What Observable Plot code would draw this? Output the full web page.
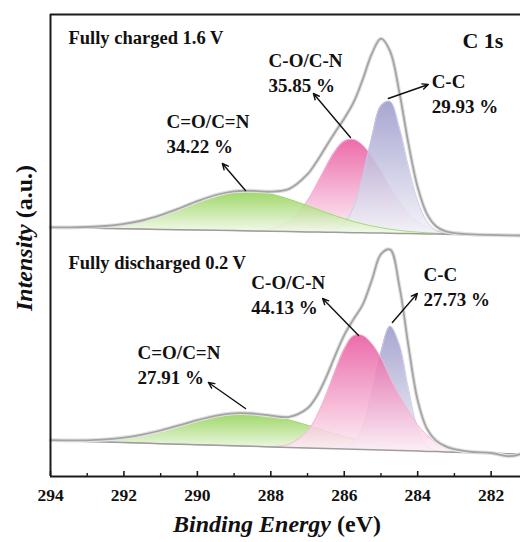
<!DOCTYPE html>
<html><head><meta charset="utf-8">
<script src="https://cdn.jsdelivr.net/npm/d3@7"></script>
<script src="https://cdn.jsdelivr.net/npm/@observablehq/plot@0.6"></script>
<style>html,body{margin:0;padding:0;background:#fff;overflow:hidden}</style>
</head><body><div id="chart"></div>
<script>
// Binding energies (eV) at which the curves were read
const energies = [294,293.5,293,292.5,292,291.5,291,290.5,290,289.5,289,288.5,288,287.5,287,286.75,286.5,286.25,286,285.75,285.5,285.25,285,284.75,284.5,284.25,284,283.75,283.5,283.25,283,282.5,282,281.5,281.2];

// Fully charged 1.6 V (upper trace, intensity a.u.)
const bgCharged    = [249.0,248.7,248.4,248.1,247.8,247.4,247.1,246.8,246.5,246.2,245.9,245.6,245.3,244.9,244.6,244.5,244.3,244.2,244.0,243.8,243.7,243.5,243.4,243.2,243.1,242.9,242.8,242.6,242.4,242.3,242.1,241.8,241.5,241.2,241.0];
const greenCharged = [0.2,0.4,1.1,2.4,4.8,8.6,14.2,21.2,28.8,35.3,39.3,39.8,37.2,32.4,26.2,22.9,19.7,16.6,13.8,11.2,9.0,7.0,5.4,4.1,3.0,2.2,1.6,1.1,0.8,0.5,0.4,0.2,0.1,0,0];
const pinkCharged  = [0,0,0,0,0,0,0,0,0,0,0,0.3,2.3,10.3,31.5,47.6,65.2,81.0,91.2,93.2,87.8,76.5,61.7,46.1,31.9,20.4,12.1,6.6,3.4,1.6,0.7,0.1,0,0,0];
const blueCharged  = [0,0,0,0,0,0,0,0,0,0,0,0,0,0,0,0.1,0.5,2.5,9.1,25.6,56.1,95.7,127.3,131.8,106.4,66.8,32.7,12.4,3.7,0.9,0.2,0,0,0,0];
const envCharged   = [0.2,0.4,1.1,2.4,4.8,8.6,14.2,21.2,28.8,35.3,39.3,40.1,39.5,42.7,57.7,70.5,85.4,100.1,114.1,130.0,152.9,179.2,194.4,182.0,141.3,89.4,46.4,20.1,7.9,3.0,1.3,0.3,0.1,0,0];

// Fully discharged 0.2 V (lower trace)
const bgDischarged    = [36.0,35.5,34.9,34.4,33.9,33.4,32.8,32.3,31.8,31.2,30.7,30.2,29.6,29.1,28.6,28.3,28.1,27.8,27.5,27.3,27.0,26.7,26.5,26.2,25.9,25.7,25.4,25.1,24.9,24.6,24.3,23.8,23.3,22.8,22.4];
const greenDischarged = [0.3,0.6,1.3,2.7,5.0,8.5,13.2,18.8,24.6,29.5,32.5,32.8,30.9,27.3,22.6,20.0,17.5,15.0,12.7,10.5,8.6,6.9,5.5,4.2,3.2,2.4,1.8,1.3,0.9,0.7,0.5,0.2,0.1,0,0];
const pinkDischarged  = [0,0,0,0,0,0,0,0,0,0,0,0,0.4,3.2,17.0,32.0,53.1,77.7,100.0,113.3,114.0,106.2,92.3,72.5,55.0,40.0,26.4,16.2,9.3,5.0,2.5,0.5,0.1,0,0];
const blueDischarged  = [0,0,0,0,0,0,0,0,0,0,0,0,0,0,0,0,0,0.2,1.2,6.0,22.0,56.5,98.0,124.0,106.5,62.0,22.5,5.3,0.8,0.1,0,0,0,0,0];
const envDischarged   = [0.3,0.6,1.3,2.7,5.0,8.5,13.2,18.8,24.6,29.5,32.5,32.8,31.3,30.5,39.6,52.0,70.6,92.9,113.9,129.8,144.6,169.6,195.8,200.7,164.7,104.4,50.7,22.8,11.0,5.8,3.0,0.7,0.2,-2.5,0];

// Axis ticks
const majorTicks = [294,292,290,288,286,284,282];
const minorTicks = [293,291,289,287,285,283];

// Annotations
const panelTitles = [
  {E: 293.51, y: 433, text: "Fully charged 1.6 V"},
  {E: 293.51, y: 208, text: "Fully discharged 0.2 V"}
];
const peakLabels = [
  {E: 288.06, y: 385, text: "C-O/C-N\n35.85 %"},
  {E: 283.62, y: 364, text: "C-C\n29.93 %"},
  {E: 290.84, y: 324, text: "C=O/C=N\n34.22 %"},
  {E: 288.53, y: 163, text: "C-O/C-N\n44.13 %"},
  {E: 283.84, y: 171, text: "C-C\n27.73 %"},
  {E: 291.63, y: 93,  text: "C=O/C=N\n27.91 %"}
];
const arrows = [
  {E1: 285.83, y1: 339, E2: 286.84, y2: 383},
  {E1: 284.80, y1: 378, E2: 283.71, y2: 392},
  {E1: 288.69, y1: 286, E2: 289.32, y2: 313},
  {E1: 285.61, y1: 141, E2: 286.59, y2: 178},
  {E1: 284.69, y1: 154, E2: 284.01, y2: 183},
  {E1: 288.69, y1: 68,  E2: 289.70, y2: 94}
];

const curve = "catmull-rom";
function peak(bg, h, grad, line) {
  const rows = energies.map((E, i) => ({E, lo: bg[i], hi: bg[i] + h[i]}));
  return [
    Plot.areaY(rows, {x: "E", y1: "lo", y2: "hi", fill: `url(#${grad})`, fillOpacity: 0.85, curve}),
    Plot.lineY(rows, {x: "E", y: "hi", stroke: line, strokeWidth: 0.9, curve})
  ];
}
function background(bg) {
  const rows = energies.map((E, i) => ({E, v: bg[i]}));
  return Plot.lineY(rows, {x: "E", y: "v", stroke: "#9d9d9d", strokeWidth: 1.5});
}
function envelope(bg, h) {
  const rows = energies.map((E, i) => ({E, v: bg[i] + h[i]}));
  return [
    Plot.lineY(rows, {x: "E", y: "v", stroke: "#e2e2e2", strokeWidth: 4, curve}),
    Plot.lineY(rows, {x: "E", y: "v", stroke: "#a4a4a4", strokeWidth: 1.8, curve})
  ];
}

const font = "'Liberation Serif', 'Times New Roman', serif";
const chart = Plot.plot({
  width: 520, height: 542,
  marginTop: 14, marginLeft: 50, marginRight: 0, marginBottom: 66,
  x: {domain: [294, 281.2]},
  y: {domain: [0, 462], axis: null},
  style: {fontFamily: font, fontWeight: "bold", color: "#111", background: "#fff"},
  marks: [
    // upper trace
    ...peak(bgCharged, pinkCharged, "gPink", "#f2b6d3"),
    ...peak(bgCharged, blueCharged, "gBlue", "#c9c8e6"),
    ...peak(bgCharged, greenCharged, "gGreen", "#9fd86d"),
    background(bgCharged),
    ...envelope(bgCharged, envCharged),
    // lower trace
    ...peak(bgDischarged, greenDischarged, "gGreen", "#9fd86d"),
    ...peak(bgDischarged, blueDischarged, "gBlue", "#c9c8e6"),
    ...peak(bgDischarged, pinkDischarged, "gPink", "#f2b6d3"),
    background(bgDischarged),
    ...envelope(bgDischarged, envDischarged),
    // frame and ticks
    Plot.ruleY([0], {stroke: "#1a1a1a", strokeWidth: 2}),
    Plot.ruleY([462], {stroke: "#1a1a1a", strokeWidth: 2}),
    Plot.ruleX([294], {stroke: "#1a1a1a", strokeWidth: 2}),
    Plot.ruleX(majorTicks, {y1: 0, y2: 5, stroke: "#1a1a1a", strokeWidth: 1.6}),
    Plot.ruleX(minorTicks, {y1: 0, y2: 3, stroke: "#1a1a1a", strokeWidth: 1.4}),
    Plot.axisX(majorTicks, {tickSize: 0, tickPadding: 12, fontSize: 17.5, fontWeight: "bold", fill: "#111", label: null}),
    // annotations
    Plot.arrow(arrows, {x1: "E1", y1: "y1", x2: "E2", y2: "y2", stroke: "#111", strokeWidth: 1.4, headLength: 7, headAngle: 50}),
    Plot.text(panelTitles, {x: "E", y: "y", text: "text", textAnchor: "start", lineAnchor: "bottom", fontSize: 18.5, fontWeight: "bold", fill: "#111"}),
    Plot.text(peakLabels, {x: "E", y: "y", text: "text", textAnchor: "start", lineAnchor: "bottom", lineHeight: 1.28, fontSize: 19, fontWeight: "bold", fill: "#111"}),
    Plot.text(["C 1s"], {x: 282.78, y: 429, text: d => d, textAnchor: "start", lineAnchor: "bottom", fontSize: 22, fontWeight: "bold", fill: "#111"})
  ]
});
document.getElementById("chart").appendChild(chart);

const svg = d3.select(chart);
const defs = svg.insert("defs", ":first-child");
function grad(id, top, bottom) {
  const g = defs.append("linearGradient").attr("id", id).attr("x1", 0).attr("y1", 0).attr("x2", 0).attr("y2", 1);
  g.append("stop").attr("offset", "0%").attr("stop-color", top);
  g.append("stop").attr("offset", "100%").attr("stop-color", bottom);
}
grad("gGreen", "#8ccf4a", "#f7fcf2");
grad("gPink", "#e8529b", "#fdf1f7");
grad("gBlue", "#9896c9", "#f3f3f9");

const xl = svg.append("text").attr("x", 277).attr("y", 532).attr("text-anchor", "middle")
  .style("font-family", font).style("font-weight", "bold").style("font-size", "24px").attr("fill", "#111");
xl.append("tspan").style("font-style", "italic").text("Binding Energy");
xl.append("tspan").text(" (eV)");

const yl = svg.append("text").attr("transform", "translate(32,238) rotate(-90)").attr("text-anchor", "middle")
  .style("font-family", font).style("font-weight", "bold").style("font-size", "24px").attr("fill", "#111");
yl.append("tspan").style("font-style", "italic").text("Intensity");
yl.append("tspan").text(" (a.u.)");
</script>
</body></html>
